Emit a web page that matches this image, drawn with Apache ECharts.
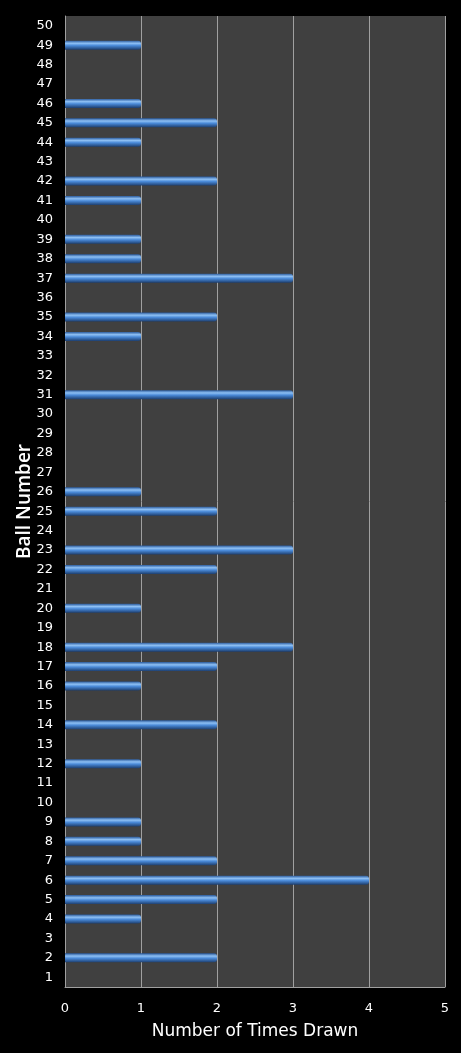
<!DOCTYPE html>
<html><head><meta charset="utf-8">
<script src="https://cdn.jsdelivr.net/npm/echarts@6/dist/echarts.min.js"></script>
<style>html,body{margin:0;padding:0;background:#000;}#c{width:461px;height:1053px;}</style>
</head><body><div id="c"></div>
<script>
const ballNumbers = Array.from({length:50},(_,i)=>String(i+1));
const drawnBalls = [2,4,5,6,7,8,9,12,14,16,17,18,20,22,23,25,26,31,34,35,37,38,39,41,42,44,45,46,49];
const drawnCounts = [2,1,2,4,2,1,1,1,2,1,2,3,1,2,3,2,1,3,1,2,3,1,1,1,2,1,2,1,1];
const xTicks = [0,1,2,3,4,5];

const counts = ballNumbers.map(b => {
  const i = drawnBalls.indexOf(Number(b));
  return i >= 0 ? drawnCounts[i] : 0;
});

const chart = echarts.init(document.getElementById('c'));
chart.setOption({
  backgroundColor:'#000',
  animation:false,
  grid:{left:65,right:16,top:16,bottom:66,backgroundColor:'#404040',show:true,borderWidth:0},
  xAxis:{type:'value',min:xTicks[0],max:xTicks[xTicks.length-1],interval:1,
    name:'Number of Times Drawn',nameLocation:'middle',nameGap:36,
    nameTextStyle:{color:'#fff',fontSize:17,fontFamily:'DejaVu Sans'},
    axisLine:{show:true,lineStyle:{color:'#a0a0a0',width:1}},
    axisTick:{show:false},
    axisLabel:{color:'#fff',fontSize:13,fontFamily:'DejaVu Sans',margin:15},
    splitLine:{show:true,lineStyle:{color:'#a0a0a0',width:1}}},
  yAxis:{type:'category',data:ballNumbers,
    name:'Ball Number',nameLocation:'middle',nameGap:31,nameRotate:90,nameMoveOverlap:false,
    nameTextStyle:{color:'#fff',fontSize:19,fontWeight:600,fontFamily:'Open Sans'},
    axisLine:{show:true,lineStyle:{color:'#a0a0a0',width:1}},
    axisTick:{show:false},
    axisLabel:{color:'#fff',fontSize:13,fontFamily:'DejaVu Sans',margin:12,interval:0}},
  series:[{type:'bar',data:counts,barWidth:9,
    itemStyle:{color:new echarts.graphic.LinearGradient(0,0,0,1,[
      {offset:0,color:'#2a5a9c'},{offset:0.3,color:'#8ec0f4'},{offset:0.55,color:'#4a8ad8'},{offset:1,color:'#1d3f70'}]),
      borderRadius:[0,3,3,0]}}]
});
</script></body></html>
